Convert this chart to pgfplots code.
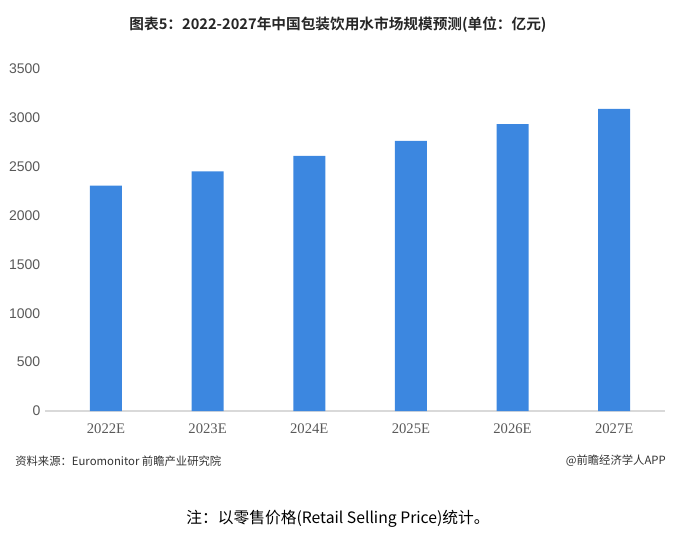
\documentclass[border=0pt]{standalone}
\usepackage{pgfplots}
\pgfplotsset{compat=1.18}
\usepackage{fontspec}
\setmainfont{Liberation Sans}
\newfontfamily\cjk{Noto Sans CJK SC}
\newfontfamily\cjkb{Noto Sans CJK SC Bold}
\newfontfamily\serifx{Liberation Serif}
\definecolor{barblue}{HTML}{3C87E0}
\definecolor{ticktext}{HTML}{595959}
\definecolor{axisgray}{HTML}{D9D9D9}
\begin{document}
\begin{tikzpicture}
\path (0pt,0pt) rectangle (507.75pt,418.5pt);
\begin{axis}[
  at={(33.75pt,110.25pt)}, anchor=south west,
  scale only axis, width=465pt, height=256.5pt,
  xmin=-0.6, xmax=5.5, ymin=0, ymax=3500,
  ytick={0,500,...,3500},
  xtick=data,
  xticklabels={2022E,2023E,2024E,2025E,2026E,2027E},
  axis x line*=bottom,
  x axis line style={draw=axisgray, line width=0.8pt, -},
  y axis line style={draw=none},
  tick style={draw=none},
  yticklabel style={font=\fontsize{10.5}{12}\selectfont, text=ticktext},
  xticklabel style={font=\serifx\fontsize{11}{12}\selectfont, text=ticktext, yshift=-2pt},
  /pgf/number format/assume math mode=true,
  /pgf/number format/1000 sep={},
  ybar, bar width=24pt,
]
\addplot[fill=barblue, draw=none] coordinates {(0,2306) (1,2453) (2,2610) (3,2765) (4,2935) (5,3091)};
\end{axis}
\node[font=\cjkb\fontsize{11}{13}\selectfont, text=black!85] at (253.5pt,399.75pt) {图表5：2022-2027年中国包装饮用水市场规模预测(单位：亿元)};
\node[anchor=west, font=\cjk\fontsize{8.5}{10}\selectfont, text=black!80, inner sep=0pt] at (11.25pt,72.75pt) {资料来源：Euromonitor 前瞻产业研究院};
\node[anchor=east, font=\cjk\fontsize{8.5}{10}\selectfont, text=black!80, inner sep=0pt] at (499.5pt,72.75pt) {@前瞻经济学人APP};
\node[font=\cjk\fontsize{11.8}{13}\selectfont, text=black] at (253.5pt,29.25pt) {注：以零售价格(Retail Selling Price)统计。};
\end{tikzpicture}
\end{document}
